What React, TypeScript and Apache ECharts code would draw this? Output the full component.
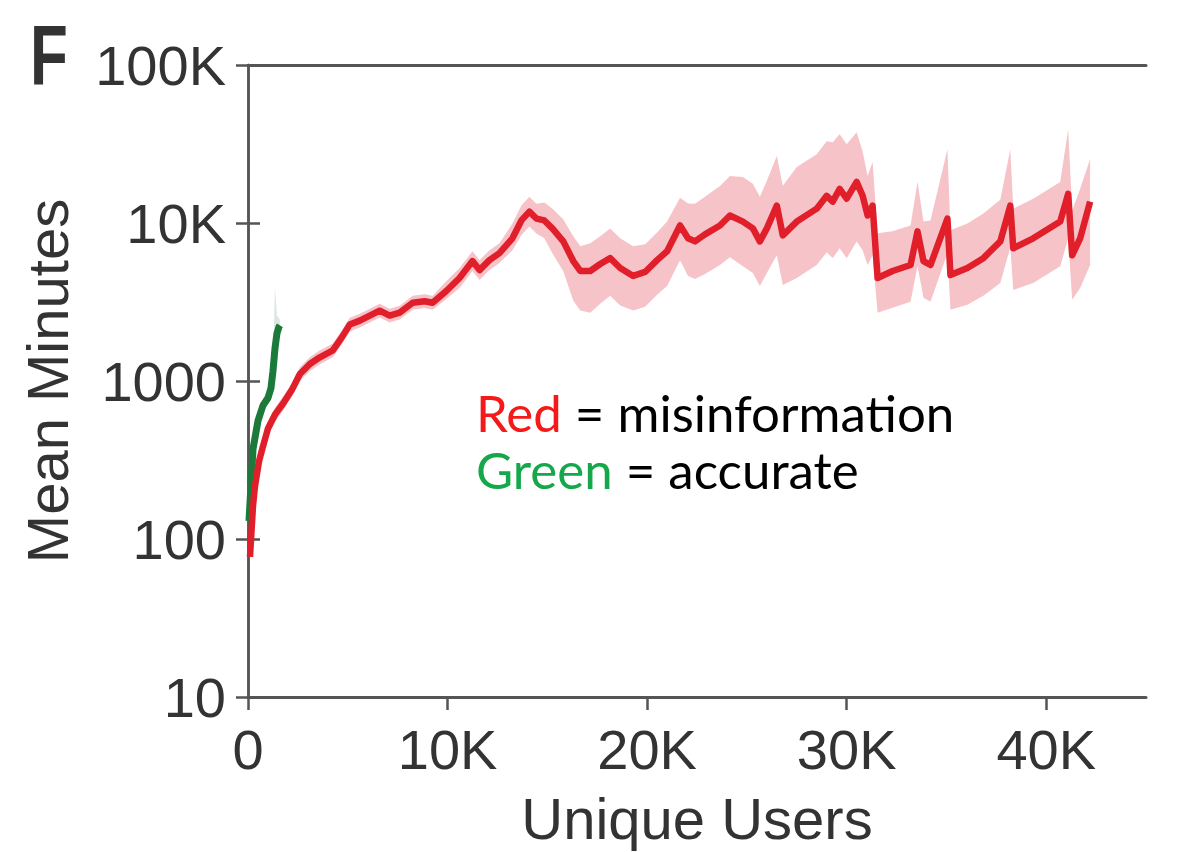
import React, { useEffect, useRef } from "react";
import * as echarts from "echarts";

// Misinformation cascade: unique users (x) vs mean minutes (y, log)
const redUsers = [
  100, 250, 350, 550, 750, 1000, 1350, 1750, 2200, 2600, 3100, 3600, 4250, 4700, 5100, 5600, 6100, 6600, 7100, 7600,
  8250, 8850, 9250, 9950, 10600, 11250, 11600, 12100, 12600, 13250, 13700, 14100, 14450, 14850, 15250, 15800, 16300,
  16650, 17150, 17650, 18150, 18650, 19300, 19900, 20500, 21000, 21650, 22050, 22400, 22900, 23650, 24150, 24800,
  25300, 25650, 26000, 26500, 26800, 27500, 28500, 29000, 29300, 29650, 30000, 30500, 30800, 31050, 31300, 31550,
  32300, 33200, 33550, 33850, 34200, 35050, 35200, 36050, 36850, 37700, 38200, 38350, 39350, 40700, 41100, 41300,
  41700, 42200,
];
const redMinutes = [
  77, 162, 216, 310, 386, 500, 612, 718, 879, 1107, 1280, 1413, 1563, 1888, 2275, 2410, 2594, 2787, 2594, 2710, 3128,
  3200, 3128, 3724, 4487, 5740, 5035, 5820, 6440, 8000, 10380, 11800, 10670, 10380, 9250, 7650, 5740, 4970, 4970, 5500,
  5990, 5190, 4625, 4900, 5820, 6620, 9640, 8000, 7650, 8470, 9640, 11150, 10210, 9250, 7650, 9250, 12880, 8350, 10210,
  12330, 14860, 13650, 16450, 14250, 18200, 14860, 11150, 12880, 4487, 4970, 5420, 8850, 5740, 5420, 10670, 4690, 5190,
  5990, 7650, 12880, 6920, 8000, 10210, 15310, 6250, 8000, 13650,
];
const redUpper = [
  83, 179, 239, 343, 427, 553, 677, 794, 972, 1224, 1416, 1563, 1729, 2088, 2516, 2665, 2869, 3082, 2869, 2997, 3460,
  3539, 3460, 4301, 5182, 6630, 5815, 6722, 7438, 9936, 12890, 14656, 13252, 13463, 12349, 10511, 8237, 7132, 7445,
  8239, 9243, 8008, 7136, 7340, 8718, 10215, 14441, 13264, 13235, 14653, 17169, 19858, 19562, 17723, 14657, 18491,
  26520, 17193, 22585, 27274, 32870, 32473, 36387, 31521, 37474, 28472, 19858, 24305, 8597, 8852, 9653, 18222, 10223,
  10385, 29321, 8986, 9944, 11477, 14030, 29341, 12325, 14248, 18184, 39148, 11975, 16472, 25389,
];
const redLower = [
  72, 146, 195, 280, 349, 452, 553, 649, 795, 1001, 1157, 1278, 1413, 1707, 2057, 2179, 2345, 2520, 2345, 2450, 2828,
  2893, 2828, 3316, 3885, 4970, 4359, 5039, 5576, 6728, 8357, 9501, 8591, 8003, 6446, 4958, 3223, 2791, 2708, 3088,
  3462, 3000, 2789, 2955, 3510, 3993, 5814, 4624, 4422, 4756, 5413, 6076, 5329, 4828, 3993, 4828, 6255, 4055, 4484,
  5415, 6526, 5995, 6915, 5990, 7650, 6718, 5415, 6255, 2706, 2913, 3177, 5338, 3365, 3177, 6435, 2829, 3042, 3462,
  4169, 7019, 3771, 4175, 5329, 7991, 3262, 3885, 5419,
];

// Accurate cascade
const greenUsers = [50, 150, 250, 500, 750, 1000, 1150, 1250, 1350, 1450, 1550, 1600];
const greenMinutes = [130, 220, 370, 560, 700, 780, 900, 1150, 1600, 2000, 2200, 2250];
const greenUpper = [140, 240, 410, 620, 770, 860, 1000, 1300, 3900, 2600, 2500, 2450];
const greenLower = [120, 204, 343, 519, 648, 722, 833, 1065, 1481, 1852, 2037, 2083];

// Axis ticks
const xTicks = [0, 10000, 20000, 30000, 40000];

const AXIS_FONT = "'Liberation Sans', Arial, sans-serif";
const AXIS_COLOR = "#555";
const TEXT_COLOR = "#333";
const NOTE_FONT = "51px Lato, sans-serif";

function fmtK(v: number): string {
  const r = Math.round(v);
  if (r >= 10000) return r / 1000 + "K";
  if (r >= 1000 && r % 1000 === 0 && r !== 1000) return r / 1000 + "K";
  return String(r);
}

function band(xs: number[], lo: number[], hi: number[], fill: string, z: number) {
  return {
    type: "custom",
    silent: true,
    z,
    data: xs.map((x, i) => [x, lo[i], hi[i]]),
    encode: { x: 0, y: [1, 2] },
    renderItem: (params: any, api: any) => {
      if (params.dataIndex !== 0) return null;
      const top = xs.map((x, i) => api.coord([x, hi[i]]));
      const bottom = xs.map((x, i) => api.coord([x, lo[i]])).reverse();
      return {
        type: "polygon",
        shape: { points: top.concat(bottom) },
        style: { fill },
      };
    },
  };
}

export default function App() {
  const ref = useRef<HTMLDivElement>(null);

  useEffect(() => {
    if (!ref.current) return;
    const chart = echarts.init(ref.current, null, { renderer: "svg" });

    const xBase = {
      type: "value",
      min: 0,
      max: 45000,
      interval: 10000,
      splitLine: { show: false },
      axisLine: { show: true, lineStyle: { color: AXIS_COLOR, width: 3 } },
    };
    const yBase = {
      type: "log",
      logBase: 10,
      min: 10,
      max: 100000,
      splitLine: { show: false },
      axisLine: { show: true, lineStyle: { color: AXIS_COLOR, width: 2.5 } },
      axisTick: { show: true, inside: false, length: 12, lineStyle: { color: AXIS_COLOR, width: 2.5 } },
    };

    chart.setOption({
      animation: false,
      backgroundColor: "#fff",
      grid: { left: 248, right: 35, top: 65, bottom: 149 },
      xAxis: [
        {
          ...xBase,
          position: "bottom",
          axisTick: {
            show: true,
            inside: false,
            length: 13,
            customValues: xTicks,
            lineStyle: { color: AXIS_COLOR, width: 2.5 },
          },
          axisLabel: {
            customValues: xTicks,
            formatter: (v: number) => fmtK(v),
            fontSize: 56,
            color: TEXT_COLOR,
            fontFamily: AXIS_FONT,
            margin: 24,
          },
          name: "Unique Users",
          nameLocation: "middle",
          nameGap: 92,
          nameTextStyle: { fontSize: 58, color: TEXT_COLOR, fontFamily: AXIS_FONT },
        },
        {
          ...xBase,
          position: "top",
          axisTick: { show: false },
          axisLabel: { show: false },
        },
      ],
      yAxis: [
        {
          ...yBase,
          position: "left",
          axisLabel: {
            formatter: (v: number) => fmtK(v),
            fontSize: 56,
            color: TEXT_COLOR,
            fontFamily: AXIS_FONT,
            margin: 22,
          },
          name: "Mean Minutes",
          nameLocation: "middle",
          nameRotate: 90,
          nameGap: 172,
          nameTextStyle: { fontSize: 58, color: TEXT_COLOR, fontFamily: AXIS_FONT },
        },
        {
          ...yBase,
          position: "right",
          axisLabel: { show: false },
        },
      ],
      series: [
        band(redUsers, redLower, redUpper, "#f6c3c8", 1),
        band(greenUsers, greenLower, greenUpper, "rgba(185,200,185,0.45)", 2),
        {
          type: "line",
          name: "accurate",
          data: greenUsers.map((x, i) => [x, greenMinutes[i]]),
          showSymbol: false,
          lineStyle: { color: "#1b7a3a", width: 7 },
          z: 3,
        },
        {
          type: "line",
          name: "misinformation",
          data: redUsers.map((x, i) => [x, redMinutes[i]]),
          showSymbol: false,
          lineStyle: { color: "#e01f2b", width: 6.5, join: "round" },
          z: 4,
        },
      ],
      graphic: [
        {
          type: "text",
          x: 30,
          y: 98,
          scaleX: 0.72,
          style: {
            text: "F",
            font: "bold 86px 'Liberation Sans', Arial, sans-serif",
            fill: "#333",
            verticalAlign: "bottom",
          },
        },
        {
          type: "text",
          left: 476,
          top: 384,
          style: {
            text: "{r|Red} = misinformation\n{g|Green} = accurate",
            font: NOTE_FONT,
            fill: "#000",
            lineHeight: 57,
            rich: {
              r: { fill: "#f41a1a", font: NOTE_FONT, lineHeight: 57 },
              g: { fill: "#14a84a", font: NOTE_FONT, lineHeight: 57 },
            },
          },
        },
      ],
    });

    return () => chart.dispose();
  }, []);

  return (
    <div
      ref={ref}
      style={{ position: "fixed", left: 0, top: 0, width: 1181, height: 852, background: "#fff" }}
    />
  );
}
